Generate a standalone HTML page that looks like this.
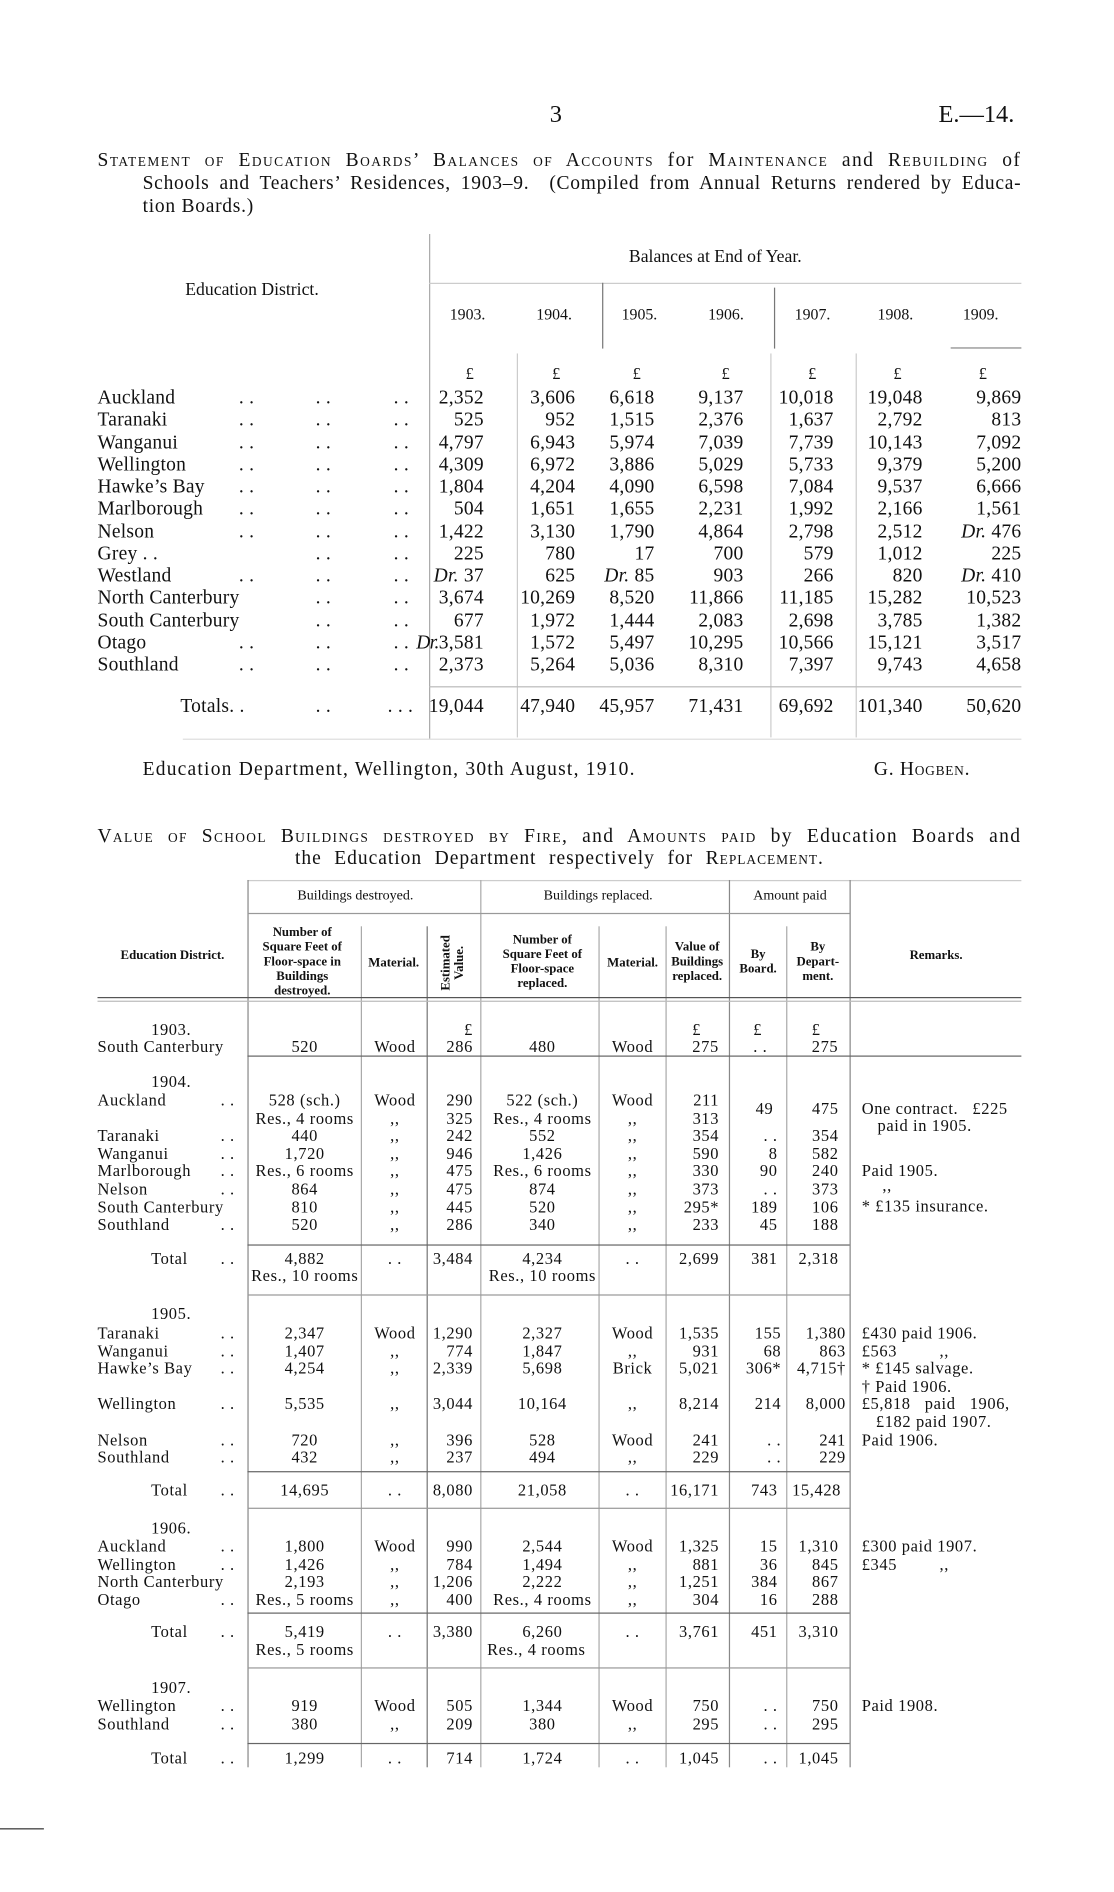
<!DOCTYPE html>
<html><head><meta charset="utf-8">
<style>
html,body{margin:0;padding:0;background:#fff;}
body{width:1114px;height:1892px;overflow:hidden;position:relative;}
#w{position:absolute;left:0;top:0;width:914px;height:1552px;transform:scale(1.21882);transform-origin:0 0;font-family:"Liberation Serif",serif;color:#111;}
.t{position:absolute;white-space:nowrap;line-height:1;}
.A{font-size:16px;letter-spacing:0.2px;}
.B{font-size:13.5px;letter-spacing:0.5px;}
.r{text-align:right;width:100px;}
.c{text-align:center;width:120px;}
.h{font-size:10.5px;font-weight:bold;text-align:center;width:110px;line-height:12px;}
.sc{font-variant:small-caps;}
.j{text-align:justify;text-align-last:justify;white-space:nowrap;}
.v{position:absolute;width:1px;background:#aaa;}
.hl{position:absolute;height:1px;background:#777;}
</style></head><body><div id="w">

<div class="t" style="left:451px;top:84px;font-size:20px;">3</div>
<div class="t" style="left:770px;top:84px;font-size:20px;">E.—14.</div>

<div class="t sc j" style="left:80px;top:124px;width:758px;font-size:16px;letter-spacing:1.2px;">Statement of Education Boards’ Balances of Accounts <span style="font-variant:normal">for</span> Maintenance <span style="font-variant:normal">and</span> Rebuilding <span style="font-variant:normal">of</span></div>
<div class="t j" style="left:117px;top:143px;width:721px;font-size:16px;letter-spacing:0.6px;">Schools and Teachers’ Residences, 1903–9.&nbsp; (Compiled from Annual Returns rendered by Educa-</div>
<div class="t" style="left:117px;top:162px;font-size:16px;letter-spacing:0.6px;">tion Boards.)</div>

<!-- table 1 lines -->
<div class="v" style="left:352px;top:192px;height:414px;"></div>
<div class="hl" style="left:352px;top:232px;width:486px;background:#ccc;"></div>
<div class="v" style="left:494px;top:232px;height:54px;background:#777;"></div>
<div class="v" style="left:635px;top:236px;height:50px;background:#777;"></div>
<div class="v" style="left:424px;top:290px;height:315px;background:#ccc;"></div>
<div class="v" style="left:632px;top:290px;height:315px;background:#ccc;"></div>
<div class="v" style="left:702px;top:290px;height:315px;background:#ccc;"></div>
<div class="hl" style="left:780px;top:285px;width:58px;background:#888;"></div>
<div class="hl" style="left:352px;top:563px;width:486px;background:#bbb;"></div>
<div class="hl" style="left:150px;top:606px;width:688px;background:#ddd;"></div>

<div class="t" style="left:516px;top:204px;font-size:14.5px;">Balances at End of Year.</div>
<div class="t" style="left:152px;top:231px;font-size:14.5px;">Education District.</div>
<div class="t" style="left:369px;top:251px;font-size:13px;">1903.</div>
<div class="t" style="left:440px;top:251px;font-size:13px;">1904.</div>
<div class="t" style="left:510px;top:251px;font-size:13px;">1905.</div>
<div class="t" style="left:581px;top:251px;font-size:13px;">1906.</div>
<div class="t" style="left:652px;top:251px;font-size:13px;">1907.</div>
<div class="t" style="left:720px;top:251px;font-size:13px;">1908.</div>
<div class="t" style="left:790px;top:251px;font-size:13px;">1909.</div>
<div class="t B" style="left:382px;top:300px;">£</div>
<div class="t B" style="left:453px;top:300px;">£</div>
<div class="t B" style="left:519px;top:300px;">£</div>
<div class="t B" style="left:592px;top:300px;">£</div>
<div class="t B" style="left:663px;top:300px;">£</div>
<div class="t B" style="left:733px;top:300px;">£</div>
<div class="t B" style="left:803px;top:300px;">£</div>

<!-- table1 rows -->
<div class="t A" style="left:80px;top:318px;line-height:18.25px;">Auckland<br>Taranaki<br>Wanganui<br>Wellington<br>Hawke’s Bay<br>Marlborough<br>Nelson<br>Grey . .<br>Westland<br>North Canterbury<br>South Canterbury<br>Otago<br>Southland</div>
<div class="t A" style="left:148px;top:572px;">Totals. .</div>

<div class="t A" style="left:196px;top:318px;line-height:18.25px;">. .<br>. .<br>. .<br>. .<br>. .<br>. .<br>. .<br><br>. .<br><br><br>. .<br>. .</div>
<div class="t A" style="left:259px;top:318px;line-height:18.25px;">. .<br>. .<br>. .<br>. .<br>. .<br>. .<br>. .<br>. .<br>. .<br>. .<br>. .<br>. .<br>. .</div>
<div class="t A" style="left:323px;top:318px;line-height:18.25px;">. .<br>. .<br>. .<br>. .<br>. .<br>. .<br>. .<br>. .<br>. .<br>. .<br>. .<br>. .<br>. .</div>
<div class="t A" style="left:259px;top:572px;">. .</div>
<div class="t A" style="left:318px;top:572px;">. . .</div>

<div class="t A r" style="left:297px;top:318px;line-height:18.25px;">2,352<br>525<br>4,797<br>4,309<br>1,804<br>504<br>1,422<br>225<br><i>Dr.</i> 37<br>3,674<br>677<br><i style="letter-spacing:-0.5px">Dr.</i>3,581<br>2,373</div>
<div class="t A r" style="left:372px;top:318px;line-height:18.25px;">3,606<br>952<br>6,943<br>6,972<br>4,204<br>1,651<br>3,130<br>780<br>625<br>10,269<br>1,972<br>1,572<br>5,264</div>
<div class="t A r" style="left:437px;top:318px;line-height:18.25px;">6,618<br>1,515<br>5,974<br>3,886<br>4,090<br>1,655<br>1,790<br>17<br><i>Dr.</i> 85<br>8,520<br>1,444<br>5,497<br>5,036</div>
<div class="t A r" style="left:510px;top:318px;line-height:18.25px;">9,137<br>2,376<br>7,039<br>5,029<br>6,598<br>2,231<br>4,864<br>700<br>903<br>11,866<br>2,083<br>10,295<br>8,310</div>
<div class="t A r" style="left:584px;top:318px;line-height:18.25px;">10,018<br>1,637<br>7,739<br>5,733<br>7,084<br>1,992<br>2,798<br>579<br>266<br>11,185<br>2,698<br>10,566<br>7,397</div>
<div class="t A r" style="left:657px;top:318px;line-height:18.25px;">19,048<br>2,792<br>10,143<br>9,379<br>9,537<br>2,166<br>2,512<br>1,012<br>820<br>15,282<br>3,785<br>15,121<br>9,743</div>
<div class="t A r" style="left:738px;top:318px;line-height:18.25px;">9,869<br>813<br>7,092<br>5,200<br>6,666<br>1,561<br><i>Dr.</i> 476<br>225<br><i>Dr.</i> 410<br>10,523<br>1,382<br>3,517<br>4,658</div>

<div class="t A r" style="left:297px;top:572px;">19,044</div>
<div class="t A r" style="left:372px;top:572px;">47,940</div>
<div class="t A r" style="left:437px;top:572px;">45,957</div>
<div class="t A r" style="left:510px;top:572px;">71,431</div>
<div class="t A r" style="left:584px;top:572px;">69,692</div>
<div class="t A r" style="left:657px;top:572px;">101,340</div>
<div class="t A r" style="left:738px;top:572px;">50,620</div>

<div class="t" style="left:117px;top:624px;font-size:16px;letter-spacing:1px;">Education Department, Wellington, 30th August, 1910.</div>
<div class="t sc" style="left:717px;top:624px;font-size:16px;letter-spacing:0.6px;">G. Hogben.</div>

<!-- title 2 -->
<div class="t sc j" style="left:80px;top:679px;width:758px;font-size:16px;letter-spacing:1.1px;">Value of School Buildings destroyed by Fire, <span style="font-variant:normal">and</span> Amounts paid <span style="font-variant:normal">by Education Boards and</span></div>
<div class="t j" style="left:242px;top:697px;width:434px;font-size:16px;letter-spacing:0.8px;">the Education Department respectively for <span class="sc">Replacement</span>.</div>

<!-- table 2 lines -->
<div class="hl" style="left:203px;top:722px;width:635px;background:#ccc;"></div>
<div class="v" style="left:203px;top:722px;height:728px;background:#888;"></div>
<div class="v" style="left:296px;top:760px;height:690px;"></div>
<div class="v" style="left:350px;top:760px;height:690px;background:#777;"></div>
<div class="v" style="left:394px;top:722px;height:728px;"></div>
<div class="v" style="left:491px;top:760px;height:690px;"></div>
<div class="v" style="left:546px;top:760px;height:690px;"></div>
<div class="v" style="left:598px;top:722px;height:728px;background:#888;"></div>
<div class="v" style="left:645px;top:760px;height:690px;"></div>
<div class="v" style="left:697px;top:722px;height:728px;background:#888;"></div>
<div class="hl" style="left:203px;top:749px;width:494px;background:#999;"></div>
<div class="hl" style="left:80px;top:818px;width:758px;background:#555;"></div>
<div class="hl" style="left:80px;top:821px;width:758px;background:#bbb;"></div>
<div class="hl" style="left:203px;top:866px;width:635px;background:#666;"></div>
<div class="hl" style="left:203px;top:1021px;width:494px;background:#666;"></div>
<div class="hl" style="left:203px;top:1062px;width:494px;background:#999;"></div>
<div class="hl" style="left:203px;top:1207px;width:494px;background:#666;"></div>
<div class="hl" style="left:203px;top:1237px;width:494px;background:#999;"></div>
<div class="hl" style="left:203px;top:1323px;width:494px;background:#666;"></div>
<div class="hl" style="left:203px;top:1368px;width:494px;background:#999;"></div>
<div class="hl" style="left:203px;top:1430px;width:494px;background:#666;"></div>
<div class="hl" style="left:0px;top:1500px;width:36px;background:#333;"></div>

<!-- table 2 headers -->
<div class="t" style="left:244px;top:730px;font-size:11.5px;">Buildings destroyed.</div>
<div class="t" style="left:446px;top:730px;font-size:11.5px;">Buildings replaced.</div>
<div class="t" style="left:618px;top:730px;font-size:11.5px;">Amount paid</div>
<div class="t h" style="left:84px;top:779px;width:115px;">Education District.</div>
<div class="t h" style="left:193px;top:760px;">Number of<br>Square Feet of<br>Floor-space in<br>Buildings<br>destroyed.</div>
<div class="t h" style="left:268px;top:785px;">Material.</div>
<div class="t" style="left:372px;top:790px;font-size:10.5px;font-weight:bold;transform:translate(-50%,-50%) rotate(-90deg);line-height:11px;text-align:center;">Estimated<br>Value.</div>
<div class="t h" style="left:390px;top:766px;">Number of<br>Square Feet of<br>Floor-space<br>replaced.</div>
<div class="t h" style="left:464px;top:785px;">Material.</div>
<div class="t h" style="left:517px;top:772px;">Value of<br>Buildings<br>replaced.</div>
<div class="t h" style="left:567px;top:778px;">By<br>Board.</div>
<div class="t h" style="left:616px;top:772px;">By<br>Depart-<br>ment.</div>
<div class="t h" style="left:713px;top:779px;">Remarks.</div>

<!-- 1903 -->
<div class="t B" style="left:124px;top:838px;">1903.</div>
<div class="t B" style="left:80px;top:852px;">South Canterbury</div>
<div class="t B c" style="left:190px;top:852px;">520</div>
<div class="t B c" style="left:264px;top:852px;">Wood</div>
<div class="t B r" style="left:288px;top:838px;line-height:14px;">£<br>286</div>
<div class="t B c" style="left:385px;top:852px;">480</div>
<div class="t B c" style="left:459px;top:852px;">Wood</div>
<div class="t B" style="left:568px;top:838px;line-height:14px;">£<br>275</div>
<div class="t B" style="left:618px;top:838px;line-height:14px;">£<br>. .</div>
<div class="t B" style="left:666px;top:838px;line-height:14px;">£<br>275</div>

<!-- 1904 -->
<div class="t B" style="left:124px;top:881px;">1904.</div>
<div class="t B" style="left:80px;top:896px;line-height:14.6px;">Auckland<br><br>Taranaki<br>Wanganui<br>Marlborough<br>Nelson<br>South Canterbury<br>Southland</div>
<div class="t B" style="left:181px;top:896px;line-height:14.6px;">. .<br><br>. .<br>. .<br>. .<br>. .<br><br>. .</div>
<div class="t B c" style="left:190px;top:896px;line-height:14.6px;">528 (sch.)<br>Res., 4 rooms<br>440<br>1,720<br>Res., 6 rooms<br>864<br>810<br>520</div>
<div class="t B c" style="left:264px;top:896px;line-height:14.6px;">Wood<br>,,<br>,,<br>,,<br>,,<br>,,<br>,,<br>,,</div>
<div class="t B r" style="left:288px;top:896px;line-height:14.6px;">290<br>325<br>242<br>946<br>475<br>475<br>445<br>286</div>
<div class="t B c" style="left:385px;top:896px;line-height:14.6px;">522 (sch.)<br>Res., 4 rooms<br>552<br>1,426<br>Res., 6 rooms<br>874<br>520<br>340</div>
<div class="t B c" style="left:459px;top:896px;line-height:14.6px;">Wood<br>,,<br>,,<br>,,<br>,,<br>,,<br>,,<br>,,</div>
<div class="t B r" style="left:490px;top:896px;line-height:14.6px;">211<br>313<br>354<br>590<br>330<br>373<br>295*<br>233</div>
<div class="t B r" style="left:538px;top:896px;line-height:14.6px;"><br><br>. .<br>8<br>90<br>. .<br>189<br>45</div>
<div class="t B" style="left:620px;top:903px;">49</div>
<div class="t B r" style="left:588px;top:896px;line-height:14.6px;"><span style="position:relative;top:7px">475</span><br><br>354<br>582<br>240<br>373<br>106<br>188</div>
<div class="t B" style="left:707px;top:903px;">One contract.&nbsp;&nbsp; £225</div>
<div class="t B" style="left:720px;top:917px;">paid in 1905.</div>
<div class="t B" style="left:707px;top:954px;">Paid 1905.</div>
<div class="t B" style="left:724px;top:966px;">,,</div>
<div class="t B" style="left:707px;top:983px;">* £135 insurance.</div>

<div class="t B" style="left:124px;top:1026px;">Total</div>
<div class="t B" style="left:181px;top:1026px;">. .</div>
<div class="t B c" style="left:190px;top:1026px;line-height:14px;">4,882<br>Res., 10 rooms</div>
<div class="t B c" style="left:264px;top:1026px;">. .</div>
<div class="t B r" style="left:288px;top:1026px;">3,484</div>
<div class="t B c" style="left:385px;top:1026px;line-height:14px;">4,234<br>Res., 10 rooms</div>
<div class="t B c" style="left:459px;top:1026px;">. .</div>
<div class="t B r" style="left:490px;top:1026px;">2,699</div>
<div class="t B r" style="left:538px;top:1026px;">381</div>
<div class="t B r" style="left:588px;top:1026px;">2,318</div>

<!-- 1905 -->
<div class="t B" style="left:124px;top:1071px;">1905.</div>
<div class="t B" style="left:80px;top:1087px;line-height:14.6px;">Taranaki<br>Wanganui<br>Hawke’s Bay<br><br>Wellington<br><br>Nelson<br>Southland</div>
<div class="t B" style="left:181px;top:1087px;line-height:14.6px;">. .<br>. .<br>. .<br><br>. .<br><br>. .<br>. .</div>
<div class="t B c" style="left:190px;top:1087px;line-height:14.6px;">2,347<br>1,407<br>4,254<br><br>5,535<br><br>720<br>432</div>
<div class="t B c" style="left:264px;top:1087px;line-height:14.6px;">Wood<br>,,<br>,,<br><br>,,<br><br>,,<br>,,</div>
<div class="t B r" style="left:288px;top:1087px;line-height:14.6px;">1,290<br>774<br>2,339<br><br>3,044<br><br>396<br>237</div>
<div class="t B c" style="left:385px;top:1087px;line-height:14.6px;">2,327<br>1,847<br>5,698<br><br>10,164<br><br>528<br>494</div>
<div class="t B c" style="left:459px;top:1087px;line-height:14.6px;">Wood<br>,,<br>Brick<br><br>,,<br><br>Wood<br>,,</div>
<div class="t B r" style="left:490px;top:1087px;line-height:14.6px;">1,535<br>931<br>5,021<br><br>8,214<br><br>241<br>229</div>
<div class="t B r" style="left:541px;top:1087px;line-height:14.6px;">155<br>68<br>306*<br><br>214<br><br>. .<br>. .</div>
<div class="t B r" style="left:594px;top:1087px;line-height:14.6px;">1,380<br>863<br>4,715†<br><br>8,000<br><br>241<br>229</div>
<div class="t B" style="left:707px;top:1087px;line-height:14.6px;">£430 paid 1906.<br>£563 &nbsp;&nbsp;&nbsp;&nbsp;&nbsp;&nbsp;&nbsp;&nbsp;,,<br>* £145 salvage.<br>† Paid 1906.<br>£5,818&nbsp;&nbsp; paid&nbsp;&nbsp; 1906,<br>&nbsp;&nbsp;&nbsp;£182 paid 1907.<br>Paid 1906.</div>

<div class="t B" style="left:124px;top:1216px;">Total</div>
<div class="t B" style="left:181px;top:1216px;">. .</div>
<div class="t B c" style="left:190px;top:1216px;">14,695</div>
<div class="t B c" style="left:264px;top:1216px;">. .</div>
<div class="t B r" style="left:288px;top:1216px;">8,080</div>
<div class="t B c" style="left:385px;top:1216px;">21,058</div>
<div class="t B c" style="left:459px;top:1216px;">. .</div>
<div class="t B r" style="left:490px;top:1216px;">16,171</div>
<div class="t B r" style="left:538px;top:1216px;">743</div>
<div class="t B r" style="left:590px;top:1216px;">15,428</div>

<!-- 1906 -->
<div class="t B" style="left:124px;top:1247px;">1906.</div>
<div class="t B" style="left:80px;top:1262px;line-height:14.6px;">Auckland<br>Wellington<br>North Canterbury<br>Otago</div>
<div class="t B" style="left:181px;top:1262px;line-height:14.6px;">. .<br>. .<br><br>. .</div>
<div class="t B c" style="left:190px;top:1262px;line-height:14.6px;">1,800<br>1,426<br>2,193<br>Res., 5 rooms</div>
<div class="t B c" style="left:264px;top:1262px;line-height:14.6px;">Wood<br>,,<br>,,<br>,,</div>
<div class="t B r" style="left:288px;top:1262px;line-height:14.6px;">990<br>784<br>1,206<br>400</div>
<div class="t B c" style="left:385px;top:1262px;line-height:14.6px;">2,544<br>1,494<br>2,222<br>Res., 4 rooms</div>
<div class="t B c" style="left:459px;top:1262px;line-height:14.6px;">Wood<br>,,<br>,,<br>,,</div>
<div class="t B r" style="left:490px;top:1262px;line-height:14.6px;">1,325<br>881<br>1,251<br>304</div>
<div class="t B r" style="left:538px;top:1262px;line-height:14.6px;">15<br>36<br>384<br>16</div>
<div class="t B r" style="left:588px;top:1262px;line-height:14.6px;">1,310<br>845<br>867<br>288</div>
<div class="t B" style="left:707px;top:1262px;line-height:14.6px;">£300 paid 1907.<br>£345 &nbsp;&nbsp;&nbsp;&nbsp;&nbsp;&nbsp;&nbsp;&nbsp;,,</div>

<div class="t B" style="left:124px;top:1332px;">Total</div>
<div class="t B" style="left:181px;top:1332px;">. .</div>
<div class="t B c" style="left:190px;top:1332px;line-height:14.6px;">5,419<br>Res., 5 rooms</div>
<div class="t B c" style="left:264px;top:1332px;">. .</div>
<div class="t B r" style="left:288px;top:1332px;">3,380</div>
<div class="t B c" style="left:385px;top:1332px;line-height:14.6px;">6,260<br><span style="margin-left:-10px">Res., 4 rooms</span></div>
<div class="t B c" style="left:459px;top:1332px;">. .</div>
<div class="t B r" style="left:490px;top:1332px;">3,761</div>
<div class="t B r" style="left:538px;top:1332px;">451</div>
<div class="t B r" style="left:588px;top:1332px;">3,310</div>

<!-- 1907 -->
<div class="t B" style="left:124px;top:1378px;">1907.</div>
<div class="t B" style="left:80px;top:1393px;line-height:14.6px;">Wellington<br>Southland</div>
<div class="t B" style="left:181px;top:1393px;line-height:14.6px;">. .<br>. .</div>
<div class="t B c" style="left:190px;top:1393px;line-height:14.6px;">919<br>380</div>
<div class="t B c" style="left:264px;top:1393px;line-height:14.6px;">Wood<br>,,</div>
<div class="t B r" style="left:288px;top:1393px;line-height:14.6px;">505<br>209</div>
<div class="t B c" style="left:385px;top:1393px;line-height:14.6px;">1,344<br>380</div>
<div class="t B c" style="left:459px;top:1393px;line-height:14.6px;">Wood<br>,,</div>
<div class="t B r" style="left:490px;top:1393px;line-height:14.6px;">750<br>295</div>
<div class="t B r" style="left:538px;top:1393px;line-height:14.6px;">. .<br>. .</div>
<div class="t B r" style="left:588px;top:1393px;line-height:14.6px;">750<br>295</div>
<div class="t B" style="left:707px;top:1393px;">Paid 1908.</div>

<div class="t B" style="left:124px;top:1436px;">Total</div>
<div class="t B" style="left:181px;top:1436px;">. .</div>
<div class="t B c" style="left:190px;top:1436px;">1,299</div>
<div class="t B c" style="left:264px;top:1436px;">. .</div>
<div class="t B r" style="left:288px;top:1436px;">714</div>
<div class="t B c" style="left:385px;top:1436px;">1,724</div>
<div class="t B c" style="left:459px;top:1436px;">. .</div>
<div class="t B r" style="left:490px;top:1436px;">1,045</div>
<div class="t B r" style="left:538px;top:1436px;">. .</div>
<div class="t B r" style="left:588px;top:1436px;">1,045</div>

</div></body></html>
